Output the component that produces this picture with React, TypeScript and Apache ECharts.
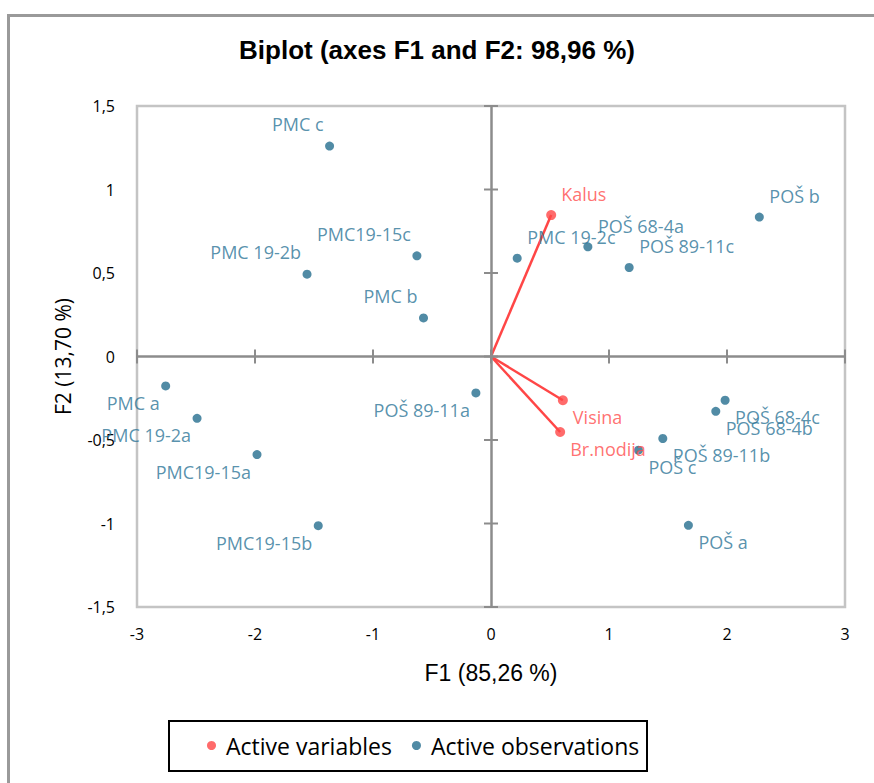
import React, { useEffect, useRef } from "react";
import * as echarts from "echarts";

// ---------- data ----------
const obsNames = [
  "PMC c", "PMC19-15c", "PMC 19-2b", "PMC b", "PMC a", "PMC 19-2a",
  "PMC19-15a", "PMC19-15b", "POŠ 89-11a", "PMC 19-2c", "POŠ 68-4a",
  "POŠ 89-11c", "POŠ b", "POŠ 68-4c", "POŠ 68-4b", "POŠ 89-11b", "POŠ c", "POŠ a",
];
const obsF1 = [
  -1.368, -0.628, -1.559, -0.572, -2.757, -2.491,
  -1.983, -1.464, -0.128, 0.222, 0.821,
  1.171, 2.274, 1.984, 1.905, 1.456, 1.249, 1.673,
];
const obsF2 = [
  1.26, 0.603, 0.493, 0.231, -0.176, -0.37,
  -0.587, -1.013, -0.218, 0.589, 0.657,
  0.533, 0.835, -0.262, -0.328, -0.491, -0.561, -1.011,
];
const varNames = ["Kalus", "Visina", "Br.nodija"];
const varF1 = [0.51, 0.609, 0.586];
const varF2 = [0.847, -0.262, -0.452];

const xTicks = [-3, -2, -1, 0, 1, 2, 3];
const yTicks = [-1.5, -1, -0.5, 0, 0.5, 1, 1.5];
const xTickLabels = ["-3", "-2", "-1", "0", "1", "2", "3"];
const yTickLabels = ["-1,5", "-1", "-0,5", "0", "0,5", "1", "1,5"];

const titleText = "Biplot (axes F1 and F2: 98,96 %)";
const xTitle = "F1 (85,26 %)";
const yTitle = "F2 (13,70 %)";
const legendNames = ["Active variables", "Active observations"];

// label placement (ul = upper-left, ll = lower-left, ur = upper-right, lr = lower-right)
const obsLabelSide = [
  "ul", "ul", "ul", "ul", "ll", "ll",
  "ll", "ll", "ll", "ur", "ur",
  "ur", "ur", "lr", "lr", "lr", "lr", "lr",
];
const varLabelSide = ["ur", "lr", "lr"];

// ---------- styles ----------
const OBS_COLOR = "#266e8e";
const OBS_LABEL = "#2d7597";
const VAR_COLOR = "#ff4646";
const VAR_LABEL = "#ff4d4d";
const AXIS_GRAY = "#8c8c8c";

const sideStyle: Record<string, any> = {
  ul: { align: "right", offset: [-6, -22] },
  ll: { align: "right", offset: [-6, 17] },
  ur: { align: "left", offset: [10, -21] },
  lr: { align: "left", offset: [10, 17] },
};

export default function App() {
  const ref = useRef<HTMLDivElement>(null);

  useEffect(() => {
    if (!ref.current) return;
    const chart = echarts.init(ref.current, null, { renderer: "svg" });

    const obsData = obsNames.map((n, i) => ({
      name: n,
      value: [obsF1[i], obsF2[i]],
      label: { position: "inside", verticalAlign: "middle", ...sideStyle[obsLabelSide[i]] },
    }));
    const varData = varNames.map((n, i) => ({
      name: n,
      value: [varF1[i], varF2[i]],
      label: { position: "inside", verticalAlign: "middle", ...sideStyle[varLabelSide[i]] },
    }));

    const fmt = (ticks: number[], labels: string[]) => (v: number) => {
      const idx = ticks.findIndex((t) => Math.abs(t - v) < 1e-9);
      return idx >= 0 ? labels[idx] : "";
    };

    chart.setOption({
      animation: false,
      title: {
        text: titleText,
        left: "center",
        top: 37,
        padding: 0,
        textStyle: { fontSize: 26, fontWeight: "bold", fontFamily: "Liberation Sans", color: "#000" },
      },
      grid: {
        left: 137,
        right: 29,
        top: 106,
        bottom: 176,
        show: true,
        borderColor: "#c4c4c4",
        borderWidth: 2.5,
        backgroundColor: "transparent",
      },
      legend: {
        data: legendNames,
        left: 207,
        top: 734,
        padding: 0,
        itemWidth: 19,
        itemHeight: 9,
        itemGap: 20,
        icon: "circle",
        textStyle: { fontSize: 23, fontFamily: "Open Sans", color: "#000" },
      },
      xAxis: {
        type: "value",
        min: -3,
        max: 3,
        interval: 1,
        axisLine: { show: false },
        axisTick: { show: false },
        splitLine: { show: false },
        axisLabel: {
          color: "#000",
          fontSize: 16,
          fontFamily: "Open Sans",
          margin: 19,
          formatter: fmt(xTicks, xTickLabels),
        },
        name: xTitle,
        nameLocation: "middle",
        nameGap: 54,
        nameTextStyle: { fontSize: 23, fontFamily: "Liberation Sans", color: "#000" },
      },
      yAxis: {
        type: "value",
        min: -1.5,
        max: 1.5,
        interval: 0.5,
        axisLine: { show: false },
        axisTick: { show: false },
        splitLine: { show: false },
        axisLabel: {
          color: "#000",
          fontSize: 16,
          fontFamily: "Open Sans",
          margin: 22,
          formatter: fmt(yTicks, yTickLabels),
        },
        name: yTitle,
        nameLocation: "middle",
        nameGap: 64,
        nameRotate: 90,
        nameTextStyle: { fontSize: 21, fontFamily: "Open Sans", color: "#000" },
      },
      graphic: [
        {
          type: "rect",
          shape: { x: 8.5, y: 15.5, width: 900, height: 800 },
          style: { fill: "none", stroke: "#9a9a9a", lineWidth: 3 },
          silent: true,
        },
        {
          type: "rect",
          shape: { x: 169, y: 721, width: 478, height: 50 },
          style: { fill: "none", stroke: "#000", lineWidth: 2 },
          silent: true,
        },
      ],
      series: [
        {
          type: "line",
          name: "zero",
          data: [],
          z: 1,
          silent: true,
          markLine: {
            silent: true,
            symbol: "none",
            label: { show: false },
            lineStyle: { color: AXIS_GRAY, width: 2.5, type: "solid" },
            data: [{ xAxis: 0 }, { yAxis: 0 }],
          },
        },
        {
          type: "custom",
          name: "xticks",
          z: 2,
          silent: true,
          data: xTicks.map((v) => [v, 0]),
          renderItem: (params: any, api: any) => {
            const p = api.coord([api.value(0), api.value(1)]);
            return {
              type: "line",
              shape: { x1: p[0], y1: p[1] - 7, x2: p[0], y2: p[1] + 7 },
              style: { stroke: AXIS_GRAY, lineWidth: 2 },
            };
          },
        },
        {
          type: "custom",
          name: "yticks",
          z: 2,
          silent: true,
          data: yTicks.map((v) => [0, v]),
          renderItem: (params: any, api: any) => {
            const p = api.coord([api.value(0), api.value(1)]);
            return {
              type: "line",
              shape: { x1: p[0] - 7, y1: p[1], x2: p[0] + 7, y2: p[1] },
              style: { stroke: AXIS_GRAY, lineWidth: 2 },
            };
          },
        },
        {
          type: "custom",
          name: "arrows",
          z: 3,
          silent: true,
          data: varNames.map((_, i) => [varF1[i], varF2[i]]),
          renderItem: (params: any, api: any) => {
            const o = api.coord([0, 0]);
            const p = api.coord([api.value(0), api.value(1)]);
            return {
              type: "line",
              shape: { x1: o[0], y1: o[1], x2: p[0], y2: p[1] },
              style: { stroke: VAR_COLOR, lineWidth: 2.5 },
            };
          },
        },
        {
          type: "scatter",
          name: legendNames[0],
          z: 5,
          symbol: "circle",
          symbolSize: 10,
          itemStyle: { color: VAR_COLOR },
          label: {
            show: true,
            formatter: "{b}",
            color: VAR_LABEL,
            fontSize: 18,
            fontFamily: "Open Sans",
          },
          data: varData,
        },
        {
          type: "scatter",
          name: legendNames[1],
          z: 5,
          symbol: "circle",
          symbolSize: 9,
          itemStyle: { color: OBS_COLOR },
          label: {
            show: true,
            formatter: "{b}",
            color: OBS_LABEL,
            fontSize: 18,
            fontFamily: "Open Sans",
          },
          data: obsData,
        },
      ],
    });

    return () => chart.dispose();
  }, []);

  return (
    <div
      ref={ref}
      style={{ position: "absolute", left: 0, top: 0, width: 874, height: 783, background: "#fff" }}
    />
  );
}
